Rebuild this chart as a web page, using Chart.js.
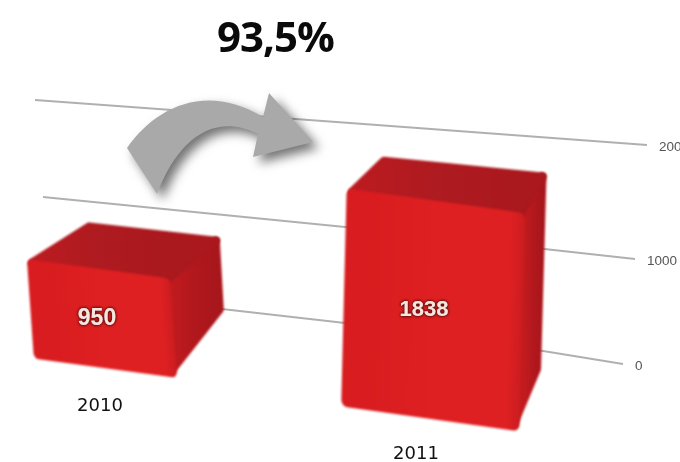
<!DOCTYPE html>
<html><head><meta charset="utf-8">
<style>html,body{margin:0;padding:0;background:#fff;overflow:hidden}canvas{display:block}</style>
<script src="https://cdn.jsdelivr.net/npm/chart.js@4"></script>
</head><body><canvas id="c" width="680" height="462"></canvas>
<script>
const title = '93,5%';
const categories = ['2010', '2011'];
const barValues = [950, 1838];
const barBases = [-36, -495];
const barCenters = [102, 433];
const tickLabels = ['2000', '1000', '0'];
const grid2000X = [35, 350, 647];
const grid2000Y = [2400, 2191, 1991];
const grid1000X = [43, 345, 635];
const grid1000Y = [1518, 1245, 955];
const grid0X = [222, 345, 537, 623];
const grid0Y = [500, 373, 127, 0];

const toXY = (xs, ys) => xs.map((x, i) => ({x, y: ys[i]}));
const gridSeries = [[grid2000X, grid2000Y], [grid1000X, grid1000Y], [grid0X, grid0Y]];

/* pseudo-3D look of each bar: perspective, shear and depth faces */
const look = [
  {sx: .82, sy: .947, shearX: .07, shearY: .135, tl: [62, -33], tr: [46, -38], br: [43, -68], lx: -5, fs: 23, yearDx: -2, yearDy: 38},
  {sx: 1.02, sy: 1.075, shearX: -.025, shearY: .14, tl: [37, -28], tr: [18, -37], br: [18, -62], lx: -9, fs: 22, yearDx: -17, yearDy: 36}
];

const bars3d = {
  id: 'bars3d',
  beforeDatasetDraw(chart, args) {
    if (args.meta.type !== 'bar') return;
    const ctx = chart.ctx;
    args.meta.data.forEach((el, i) => {
      const L = look[i], p = el.getProps(['x', 'y', 'base', 'width'], true);
      const top0 = p.y, bot0 = p.base;
      const h = (bot0 - top0) * L.sy, cy = bot0 - h / 2, w = p.width * L.sx;
      const pt = (dx, dy) => [p.x + dx + L.shearX * dy, cy + dy + L.shearY * dx];
      const TL = pt(-w / 2, -h / 2), TR = pt(w / 2, -h / 2), BR = pt(w / 2, h / 2);
      ctx.save();
      ctx.filter = 'blur(1.3px)';
      ctx.lineJoin = 'round';
      ctx.lineWidth = 8;
      const poly = (pts, fill) => {
        ctx.beginPath();
        pts.forEach((q, k) => k ? ctx.lineTo(q[0], q[1]) : ctx.moveTo(q[0], q[1]));
        ctx.closePath();
        ctx.fillStyle = fill; ctx.strokeStyle = fill;
        ctx.stroke(); ctx.fill();
      };
      const BTL = [TL[0] + L.tl[0], TL[1] + L.tl[1]], BTR = [TR[0] + L.tr[0], TR[1] + L.tr[1]];
      const SBR = [BR[0] + L.br[0], BR[1] + L.br[1]];
      /* front corners pulled in so the rounded stroke stays behind the front face */
      const TLi = [TL[0] + 5, TL[1] + 3], TRi = [TR[0] - 5, TR[1] + 3], BRi = [BR[0] - 5, BR[1] - 7];
      const gs = ctx.createLinearGradient(TR[0], 0, BTR[0], 0);
      gs.addColorStop(0, '#c21b1f'); gs.addColorStop(.5, '#b2181d'); gs.addColorStop(1, '#a8171c');
      poly([TRi, BTR, SBR, BRi], gs);
      const gt = ctx.createLinearGradient(TL[0], 0, TR[0], 0);
      gt.addColorStop(0, '#bc1c20'); gt.addColorStop(.5, '#ae1b20'); gt.addColorStop(1, '#aa191e');
      poly([TLi, BTL, BTR, TRi], gt);
      ctx.translate(p.x, cy);
      ctx.transform(L.sx, L.shearY * L.sx, L.shearX * L.sy, L.sy, 0, 0);
      ctx.translate(-p.x, -(top0 + bot0) / 2);
      el.draw(ctx);
      ctx.restore();
    });
    return false;
  },
  afterDatasetsDraw(chart) {
    const ctx = chart.ctx, xS = chart.scales.x, yS = chart.scales.y;
    const meta = chart.getDatasetMeta(chart.data.datasets.findIndex(d => d.type === 'bar'));
    ctx.save();
    ctx.textBaseline = 'middle';
    /* tick labels at the right-hand end of each gridline */
    ctx.font = '13.5px "Liberation Sans"'; ctx.fillStyle = '#555'; ctx.textAlign = 'left';
    ctx.filter = 'blur(0.4px)';
    gridSeries.forEach(([xs, ys], i) => {
      const n = xs.length - 1;
      ctx.fillText(tickLabels[i], xS.getPixelForValue(xs[n]) + 12, yS.getPixelForValue(ys[n]) + 2);
    });
    ctx.filter = 'none';
    /* value labels and year labels */
    meta.data.forEach((el, i) => {
      const L = look[i], p = el.getProps(['x', 'y', 'base'], true);
      const h = (p.base - p.y) * L.sy, cy = p.base - h / 2;
      ctx.textAlign = 'center';
      ctx.font = 'bold ' + L.fs + 'px "Liberation Sans"';
      ctx.shadowColor = '#4a0a0c'; ctx.shadowBlur = 3;
      ctx.fillStyle = '#f6e6de';
      ctx.fillText(String(barValues[i]), p.x + L.lx, cy);
      ctx.fillText(String(barValues[i]), p.x + L.lx, cy);
      ctx.shadowBlur = 0;
      ctx.font = '18px "DejaVu Sans"'; ctx.fillStyle = '#111';
      ctx.fillText(categories[i], p.x + L.yearDx, p.base + L.yearDy);
    });
    /* curved arrow */
    ctx.save();
    ctx.shadowColor = 'rgba(0,0,0,.55)'; ctx.shadowBlur = 11; ctx.shadowOffsetX = 6; ctx.shadowOffsetY = 6;
    ctx.fillStyle = '#a9a9a9';
    ctx.beginPath();
    ctx.moveTo(127, 148);
    ctx.bezierCurveTo(155, 108, 205, 82, 263, 117);
    ctx.lineTo(269, 93); ctx.lineTo(313, 142); ctx.lineTo(253, 157); ctx.lineTo(258, 134);
    ctx.bezierCurveTo(215, 112, 178, 138, 157, 194);
    ctx.closePath(); ctx.fill();
    ctx.restore();
    /* headline */
    ctx.textAlign = 'left'; ctx.fillStyle = '#0a0a0a';
    ctx.font = 'bold 42px "Open Sans"';
    ctx.letterSpacing = '-1px';
    ctx.fillText(title, 217, 40);
    ctx.restore();
  }
};

new Chart(document.getElementById('c'), {
  type: 'scatter',
  data: {
    datasets: [
      ...gridSeries.map(([xs, ys], i) => ({
        type: 'line', label: 'Grid ' + tickLabels[i], data: toXY(xs, ys), order: 2,
        borderColor: '#b0b0b0', borderWidth: 2, pointRadius: 0, fill: false, tension: 0
      })),
      {
        type: 'bar', label: 'Value', order: 1,
        data: barValues.map((v, i) => ({x: barCenters[i], y: [barBases[i], barBases[i] + v]})),
        barThickness: 174, borderWidth: 0, borderSkipped: false, borderRadius: 6,
        backgroundColor: c => {
          if (c.dataIndex === undefined) return '#dc1f20';
          const x = barCenters[c.dataIndex];
          const g = c.chart.ctx.createLinearGradient(x - 87, 0, x + 87, 0);
          g.addColorStop(0, '#d81d20'); g.addColorStop(.1, '#d81c1f');
          g.addColorStop(.5, '#df2022'); g.addColorStop(.92, '#df2022'); g.addColorStop(1, '#cc1d20');
          return g;
        }
      }
    ]
  },
  plugins: [bars3d],
  options: {
    responsive: false, animation: false, devicePixelRatio: 1,
    layout: {padding: 0},
    plugins: {legend: {display: false}, tooltip: {enabled: false}, title: {display: false}},
    scales: {
      x: {type: 'linear', display: false, min: 0, max: 680, offset: false},
      y: {type: 'linear', display: false, min: -891, max: 3309}
    }
  }
});
</script></body></html>
